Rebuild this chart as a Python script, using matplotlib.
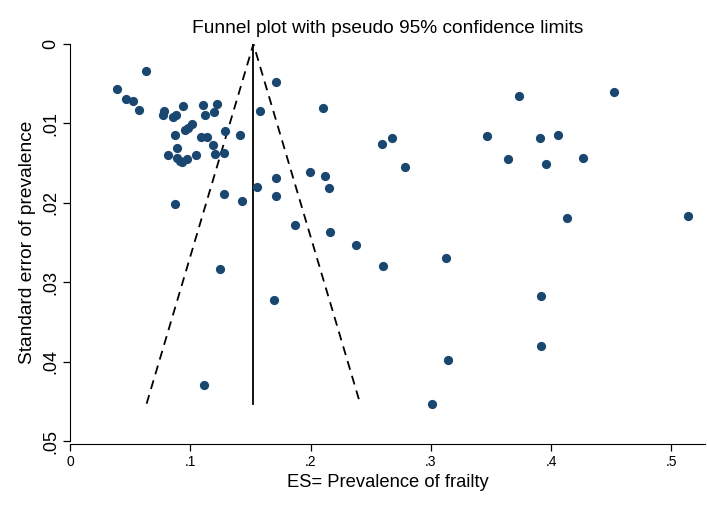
import matplotlib
matplotlib.use("Agg")
import matplotlib.pyplot as plt

plt.rcParams['font.family'] = ['Liberation Sans', 'DejaVu Sans']

# study estimates (prevalence) and their standard errors
prevalence = [
    0.0635, 0.0394, 0.0463, 0.0527, 0.0577, 0.0785, 0.0771, 0.0854, 0.0882, 0.0943,
    0.1109, 0.1220, 0.1123, 0.1201, 0.1017, 0.0979, 0.0957, 0.0874, 0.1090, 0.1142,
    0.1290, 0.1414, 0.1192, 0.1209, 0.1284, 0.0893, 0.0813, 0.0888, 0.0915, 0.0934,
    0.0976, 0.1046, 0.1558, 0.1714, 0.1714, 0.1281, 0.1428, 0.0874, 0.1711, 0.1581,
    0.2107, 0.2598, 0.2676, 0.2787, 0.1997, 0.2119, 0.2152, 0.1869, 0.2161, 0.2382,
    0.2604, 0.1695, 0.3730, 0.4523, 0.3469, 0.3908, 0.4060, 0.3646, 0.3954, 0.4268,
    0.4132, 0.5141, 0.3126, 0.1245, 0.3142, 0.1117, 0.3014, 0.3918, 0.3918,
]
std_err = [
    0.0034, 0.0057, 0.0069, 0.0072, 0.0083, 0.0085, 0.0090, 0.0092, 0.0089, 0.0078,
    0.0077, 0.0076, 0.0090, 0.0086, 0.0101, 0.0106, 0.0108, 0.0115, 0.0117, 0.0117,
    0.0109, 0.0115, 0.0127, 0.0139, 0.0137, 0.0131, 0.0140, 0.0144, 0.0147, 0.0149,
    0.0145, 0.0140, 0.0180, 0.0169, 0.0192, 0.0189, 0.0198, 0.0202, 0.0048, 0.0084,
    0.0081, 0.0126, 0.0118, 0.0155, 0.0161, 0.0166, 0.0181, 0.0228, 0.0237, 0.0253,
    0.0279, 0.0322, 0.0065, 0.0060, 0.0116, 0.0118, 0.0115, 0.0145, 0.0151, 0.0143,
    0.0219, 0.0216, 0.0270, 0.0283, 0.0398, 0.0429, 0.0454, 0.0317, 0.0380,
]

# pooled estimate and pseudo 95% limits at the largest standard error
pooled = 0.1525
se_max = 0.0453
lower_limit = 0.0637
upper_limit = 0.2413

x_ticks = [0, 0.1, 0.2, 0.3, 0.4, 0.5]
x_labels = ['0', '.1', '.2', '.3', '.4', '.5']
y_ticks = [0, 0.01, 0.02, 0.03, 0.04, 0.05]
y_labels = ['0', '.01', '.02', '.03', '.04', '.05']

fig = plt.figure(figsize=(7.07, 5.14), dpi=100)
ax = fig.add_axes([70 / 707, 1 - 441 / 514, 635 / 707, 397 / 514])

ax.scatter(prevalence, std_err, s=44, color='#1a476f', zorder=3, linewidths=0)

# funnel
ax.plot([lower_limit, pooled, upper_limit], [se_max, 0, se_max],
        color='black', linestyle=(0, (5, 3.5)), linewidth=1.3)
ax.plot([pooled, pooled], [0, se_max], color='black', linewidth=1.3)

ax.set_xlim(0, 0.528)
ax.set_ylim(0.05, 0)

ax.set_xticks(x_ticks)
ax.set_xticklabels(x_labels, fontsize=13)
ax.set_yticks(y_ticks)
ax.set_yticklabels(y_labels, fontsize=13, rotation=90, va='center')

ax.spines['top'].set_visible(False)
ax.spines['right'].set_visible(False)
ax.spines['bottom'].set_position(('outward', 2))
ax.tick_params(direction='out', length=5, width=0.9, color='black', pad=3)

ax.set_xlabel('ES= Prevalence of frailty', fontsize=13.2, labelpad=4)
ax.set_ylabel('Standard error of prevalence', fontsize=13.8, labelpad=4)
ax.set_title('Funnel plot with pseudo 95% confidence limits', fontsize=13.8, pad=8)

fig.savefig('out.png', dpi=100)
